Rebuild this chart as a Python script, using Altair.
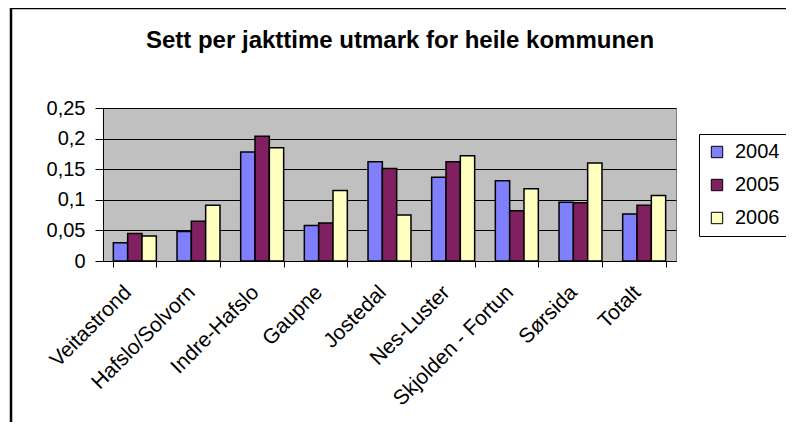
import altair as alt
import pandas as pd

categories = ["Veitastrond", "Hafslo/Solvorn", "Indre-Hafslo", "Gaupne", "Jostedal",
              "Nes-Luster", "Skjolden - Fortun", "Sørsida", "Totalt"]
years = ["2004", "2005", "2006"]
v2004 = [0.030, 0.048, 0.178, 0.058, 0.162, 0.137, 0.131, 0.096, 0.077]
v2005 = [0.045, 0.065, 0.204, 0.062, 0.151, 0.162, 0.082, 0.095, 0.091]
v2006 = [0.041, 0.091, 0.185, 0.115, 0.075, 0.172, 0.118, 0.160, 0.107]
colors = ["#8080FF", "#802060", "#FFFFC0"]
y_ticks = [0, 0.05, 0.1, 0.15, 0.2, 0.25]
title_text = "Sett per jakttime utmark for heile kommunen"

rows = []
for yr, vals in zip(years, [v2004, v2005, v2006]):
    for c, v in zip(categories, vals):
        rows.append({"Område": c, "År": yr, "Verdi": v})
df = pd.DataFrame(rows)

FONT = "Liberation Sans"

bars = alt.Chart(df).mark_bar(stroke="black", strokeWidth=1.5).encode(
    x=alt.X("Område:N", sort=categories, title=None,
            scale=alt.Scale(paddingInner=0.325, paddingOuter=0.1625),
            axis=alt.Axis(labelAngle=-45, labelAlign="right", labelBaseline="middle",
                          labelPadding=22, labelOffset=-7, tickBand="extent",
                          tickSize=6, tickColor="black", domainColor="black",
                          labelFontSize=21, labelFont=FONT, labelColor="black")),
    xOffset=alt.XOffset("År:N", sort=years, scale=alt.Scale(paddingInner=0, paddingOuter=0)),
    y=alt.Y("Verdi:Q", title=None,
            scale=alt.Scale(domain=[0, 0.25], nice=False),
            axis=alt.Axis(values=y_ticks, labelExpr="replace(toString(datum.value), '.', ',')",
                          grid=True, gridColor="black", gridWidth=1,
                          tickSize=8, tickColor="black", domainColor="black",
                          labelFontSize=20, labelFont=FONT, labelColor="black",
                          labelPadding=10)),
    fill=alt.Fill("År:N", sort=years, scale=alt.Scale(domain=years, range=colors),
                  legend=alt.Legend(title=None, orient="none", legendX=596, legendY=26,
                                    symbolType="square", symbolSize=130,
                                    symbolStrokeColor="black", symbolStrokeWidth=1,
                                    labelFontSize=20, labelFont=FONT, labelColor="black",
                                    labelOffset=8, rowPadding=13, padding=8,
                                    strokeColor="black", fillColor="white")),
)

frame = alt.Chart(pd.DataFrame({"a": [0]})).mark_rect(
    fill=None, stroke="black", strokeWidth=2.5
).encode(x=alt.value(-92), x2=alt.value(686), y=alt.value(-100), y2=alt.value(330))

title = alt.Chart(pd.DataFrame({"t": [title_text]})).mark_text(
    font=FONT, fontSize=24, fontWeight="bold", color="black",
    align="center", baseline="alphabetic"
).encode(text="t:N", x=alt.value(297), y=alt.value(-60))

chart = alt.layer(bars, frame, title).properties(
    width=573, height=153,
    autosize=alt.AutoSizeParams(type="none"),
    padding={"left": 95, "top": 100, "right": 110, "bottom": 161},
    background="white",
).configure_view(fill="#C0C0C0", stroke="#808080", strokeWidth=1)

chart.save("out.html", embed_options={"renderer": "svg", "actions": False})
